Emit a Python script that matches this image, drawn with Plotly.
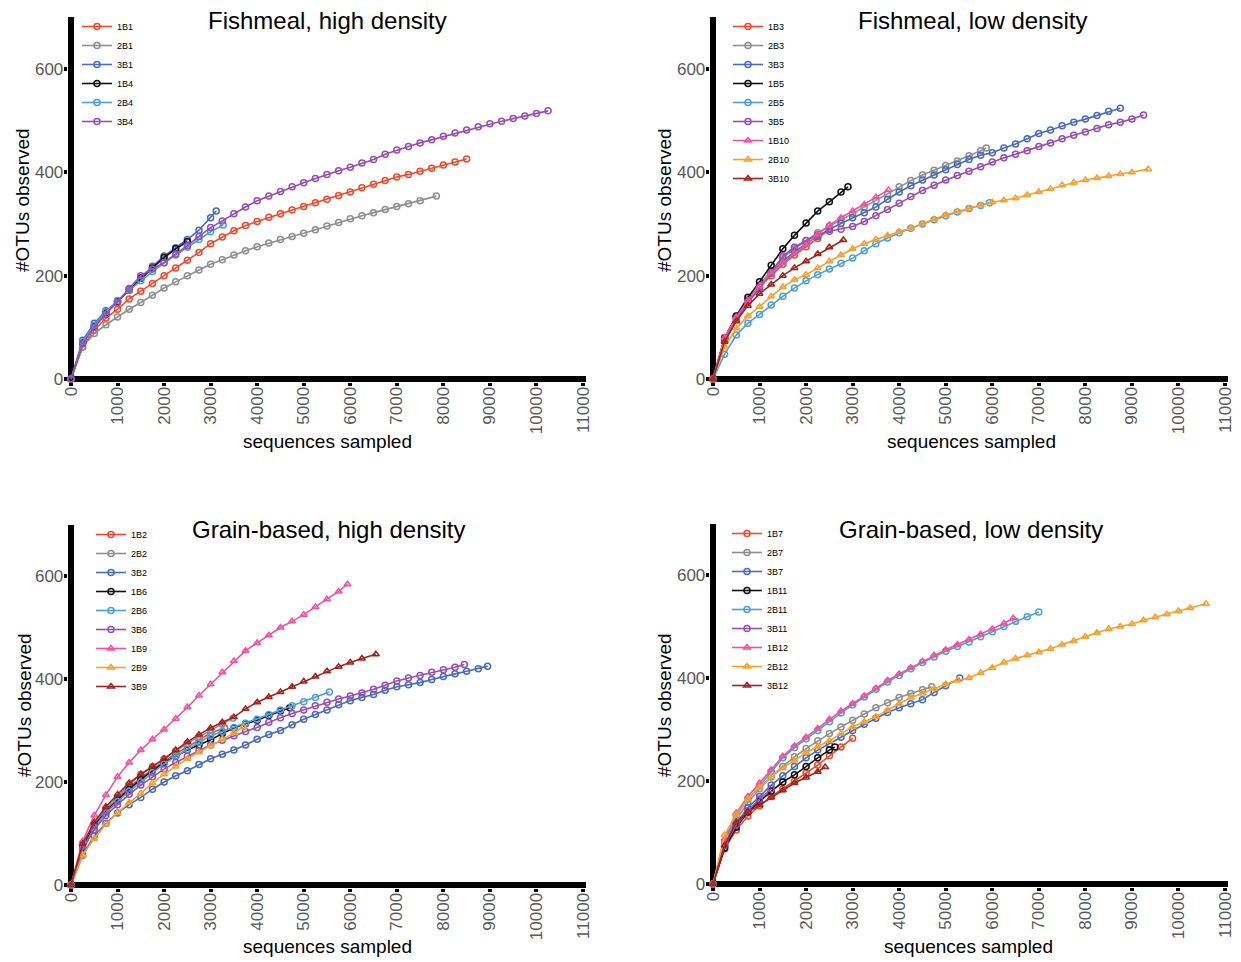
import plotly.graph_objects as go

# ---------------- data ----------------
DEPTH_STEP = 250  # rarefaction sampling step (sequences)

COLORS = ["#F2492B", "#8F8F8F", "#4A6BC0", "#111111", "#4AA0DC",
          "#9A4DB5", "#F0539E", "#F7A02C", "#A3231D"]
SYMBOLS = ["circle-open"] * 6 + ["triangle-up-open"] * 3

TITLES = ["Fishmeal, high density", "Fishmeal, low density",
          "Grain-based, high density", "Grain-based, low density"]

X_TICKS = list(range(0, 11001, 1000))
Y_TICKS = [0, 200, 400, 600]

# Panel 1 : Fishmeal, high density
P1_NAMES = ["1B1", "2B1", "3B1", "1B4", "2B4", "3B4"]
P1_END = [8500, 7850, 3120, 2500, 3270, 10250]
P1_OTUS = [
    [0, 62, 95, 118, 135, 155, 170, 185, 200, 215, 230, 245, 262, 275, 287, 297, 305, 313, 320, 327, 334, 341, 348, 355, 362, 370, 377, 384, 391, 396, 402, 408, 414, 420, 426],
    [0, 62, 88, 105, 120, 135, 148, 162, 176, 188, 200, 211, 222, 231, 240, 248, 256, 263, 270, 276, 282, 289, 296, 303, 310, 316, 322, 328, 334, 339, 345, 354],
    [0, 75, 108, 132, 150, 174, 196, 218, 238, 254, 270, 288, 312, 325],
    [0, 70, 102, 128, 150, 172, 195, 215, 235, 252, 266],
    [0, 72, 104, 130, 152, 172, 190, 208, 225, 240, 255, 270, 285, 298],
    [0, 68, 100, 125, 148, 175, 200, 213, 225, 242, 258, 276, 293, 306, 320, 333, 345, 354, 363, 372, 380, 388, 396, 403, 410, 418, 425, 435, 443, 450, 457, 463, 470, 476, 482, 488, 494, 499, 504, 509, 514, 519],
]

# Panel 2 : Fishmeal, low density
P2_NAMES = ["1B3", "2B3", "3B3", "1B5", "2B5", "3B5", "1B10", "2B10", "3B10"]
P2_END = [2500, 5870, 8750, 2900, 5940, 9250, 3770, 9350, 2800]
P2_OTUS = [
    [0, 80, 120, 152, 178, 200, 222, 240, 256, 272, 290],
    [0, 80, 122, 155, 182, 210, 235, 252, 268, 283, 296, 308, 320, 333, 345, 358, 372, 384, 395, 404, 413, 422, 432, 442, 447],
    [0, 80, 120, 152, 178, 205, 228, 246, 262, 276, 290, 301, 312, 322, 333, 348, 362, 374, 385, 395, 405, 415, 425, 433, 438, 447, 455, 465, 475, 482, 490, 497, 503, 510, 518, 524],
    [0, 78, 122, 158, 188, 220, 252, 278, 302, 325, 343, 362, 372],
    [0, 48, 85, 108, 125, 143, 160, 176, 190, 202, 213, 224, 234, 248, 262, 273, 283, 292, 300, 308, 316, 323, 330, 336, 341],
    [0, 75, 115, 148, 175, 205, 238, 255, 268, 279, 286, 290, 295, 305, 316, 328, 340, 353, 365, 375, 385, 394, 402, 411, 420, 428, 435, 442, 450, 457, 465, 472, 478, 485, 492, 497, 503, 511],
    [0, 80, 120, 152, 180, 205, 225, 243, 260, 280, 298, 312, 325, 338, 352, 366],
    [0, 62, 98, 122, 140, 160, 178, 192, 202, 215, 228, 240, 252, 262, 270, 278, 285, 292, 300, 309, 318, 324, 330, 336, 342, 346, 350, 356, 362, 368, 375, 380, 385, 389, 393, 397, 400, 406],
    [0, 72, 112, 142, 165, 183, 200, 215, 228, 242, 255, 269],
]

# Panel 3 : Grain-based, high density
P3_NAMES = ["1B2", "2B2", "3B2", "1B6", "2B6", "3B6", "1B9", "2B9", "3B9"]
P3_END = [3300, 3480, 8950, 4700, 5550, 8450, 5940, 3700, 6550]
P3_OTUS = [
    [0, 72, 115, 145, 168, 190, 208, 225, 240, 255, 268, 282, 295, 305],
    [0, 75, 118, 148, 170, 195, 215, 230, 245, 260, 275, 288, 300, 312, 324],
    [0, 58, 95, 120, 140, 156, 170, 186, 200, 212, 222, 234, 245, 254, 262, 272, 283, 292, 300, 311, 322, 331, 340, 350, 358, 364, 370, 378, 385, 389, 393, 399, 405, 410, 415, 420, 425],
    [0, 72, 115, 142, 165, 186, 205, 222, 238, 250, 262, 272, 282, 294, 305, 313, 320, 329, 338, 344],
    [0, 70, 112, 140, 162, 182, 200, 218, 235, 250, 263, 277, 290, 298, 306, 314, 322, 331, 340, 348, 356, 364, 375],
    [0, 68, 108, 135, 156, 176, 194, 210, 225, 238, 250, 261, 272, 281, 290, 298, 306, 316, 325, 333, 340, 348, 355, 361, 367, 373, 380, 388, 396, 402, 407, 413, 418, 423, 428],
    [0, 85, 135, 175, 210, 238, 262, 283, 302, 323, 345, 368, 390, 413, 435, 455, 470, 485, 500, 512, 525, 540, 555, 570, 584],
    [0, 58, 90, 118, 140, 160, 178, 198, 215, 230, 245, 258, 270, 283, 295, 307],
    [0, 80, 122, 152, 176, 198, 215, 230, 245, 262, 278, 292, 305, 316, 326, 342, 355, 365, 375, 385, 395, 405, 415, 424, 432, 440, 448],
]

# Panel 4 : Grain-based, low density
P4_NAMES = ["1B7", "2B7", "3B7", "1B11", "2B11", "3B11", "1B12", "2B12", "3B12"]
P4_END = [3000, 4700, 5300, 2620, 7000, 1250, 6450, 10590, 2410]
P4_OTUS = [
    [0, 68, 105, 132, 152, 170, 185, 200, 215, 231, 249, 266, 283],
    [0, 80, 125, 158, 185, 208, 228, 247, 263, 278, 292, 305, 318, 330, 342, 352, 362, 370, 377, 383],
    [0, 75, 118, 148, 170, 192, 210, 228, 245, 260, 272, 285, 298, 310, 322, 333, 342, 350, 358, 372, 385, 400],
    [0, 70, 110, 140, 160, 180, 198, 212, 228, 245, 260, 266],
    [0, 82, 132, 165, 190, 218, 245, 265, 282, 298, 315, 332, 348, 363, 378, 392, 405, 418, 430, 441, 452, 461, 470, 480, 490, 500, 510, 519, 528],
    [0, 75, 115, 142, 165, 185],
    [0, 88, 138, 170, 196, 222, 248, 268, 285, 302, 320, 336, 350, 365, 380, 395, 408, 420, 432, 444, 455, 465, 475, 485, 495, 506, 516],
    [0, 95, 135, 165, 188, 208, 225, 240, 255, 267, 278, 292, 305, 315, 325, 338, 350, 362, 370, 379, 388, 395, 400, 410, 420, 430, 438, 444, 450, 457, 465, 472, 480, 488, 495, 500, 505, 512, 518, 524, 530, 536, 544],
    [0, 75, 120, 140, 153, 168, 182, 196, 207, 218, 227],
]

PANELS = [
    (P1_NAMES, P1_END, P1_OTUS),
    (P2_NAMES, P2_END, P2_OTUS),
    (P3_NAMES, P3_END, P3_OTUS),
    (P4_NAMES, P4_END, P4_OTUS),
]

# ---------------- layout geometry (page pixels) ----------------
W, H = 1241, 962
OFF = 8          # page body margin
FONT = "Liberation Sans, Arial, sans-serif"
X_MIN, X_MAX = -70, 11060
Y_MIN, Y_MAX = -6, 700

# (page x of 0, page x of 11000, page y of 0, page y of 600)
ANCHORS = [(71, 583, 379, 69), (713, 1225, 379, 69),
           (71, 583, 885, 576), (713, 1225, 884, 575)]
TITLE_POS = [(328, 20), (972, 20), (329, 529), (971, 529)]
XTITLE_POS = [(328, 441), (971, 441), (328, 946), (968, 946)]
YTITLE_POS = [(22, 200), (664, 200), (24, 705), (664, 705)]
LEGEND_POS = [(77, 12), (728, 12), (91, 520), (727, 519)]


def fx(px):
    return (px - OFF) / W


def fy(py):
    return (H - (py - OFF)) / H


fig = go.Figure()

for p, (names, ends, otus) in enumerate(PANELS):
    sfx = "" if p == 0 else str(p + 1)
    for i, (nm, end, vals) in enumerate(zip(names, ends, otus)):
        depths = [k * DEPTH_STEP for k in range(len(vals) - 1)] + [end]
        fig.add_trace(go.Scatter(
            x=depths, y=vals, name=nm, mode="lines+markers",
            xaxis="x" + sfx, yaxis="y" + sfx, legend="legend" + sfx,
            line=dict(color=COLORS[i], width=1.6),
            marker=dict(symbol=SYMBOLS[i], size=6, color=COLORS[i],
                        line=dict(width=1.5, color=COLORS[i])),
            cliponaxis=False,
        ))

layout = dict(
    width=W, height=H,
    margin=dict(l=0, r=0, t=0, b=0, pad=0, autoexpand=False),
    paper_bgcolor="white", plot_bgcolor="white",
    font=dict(family=FONT, color="black"),
    showlegend=True,
)

annotations = []
for p, (x0, x1, y0, y6) in enumerate(ANCHORS):
    sfx = "" if p == 0 else str(p + 1)
    ppx = (x1 - x0) / 11000.0
    ppy = (y0 - y6) / 600.0
    left, right = x0 + X_MIN * ppx, x0 + X_MAX * ppx
    bottom, top = y0 - Y_MIN * ppy, y0 - Y_MAX * ppy
    axis_common = dict(
        showline=False, zeroline=True, zerolinewidth=6, zerolinecolor="black",
        ticks="outside", ticklen=3, tickwidth=4, tickcolor="black",
        showgrid=False, automargin=False,
        tickfont=dict(size=17, color="#595959", family=FONT),
    )
    layout["xaxis" + sfx] = dict(
        domain=[fx(left), fx(right)], anchor="y" + sfx, range=[X_MIN, X_MAX],
        tickvals=X_TICKS, ticktext=[str(v) for v in X_TICKS], tickangle=-90,
        ticklabelstandoff=-6, **axis_common)
    layout["yaxis" + sfx] = dict(
        domain=[fy(bottom), fy(top)], anchor="x" + sfx, range=[Y_MIN, Y_MAX],
        tickvals=Y_TICKS, ticktext=[str(v) for v in Y_TICKS],
        ticklabelstandoff=-3, **axis_common)
    lx, ly = LEGEND_POS[p]
    layout["legend" + sfx] = dict(
        x=fx(lx), y=fy(ly), xanchor="left", yanchor="top",
        bgcolor="rgba(0,0,0,0)", font=dict(size=9, color="black", family=FONT),
        tracegroupgap=0, itemwidth=30,
    )
    tx, ty = TITLE_POS[p]
    annotations.append(dict(
        text=TITLES[p], x=fx(tx), y=fy(ty), xref="paper", yref="paper",
        xanchor="center", yanchor="middle", showarrow=False,
        font=dict(size=24, color="black", family=FONT)))
    ax_, ay_ = XTITLE_POS[p]
    annotations.append(dict(
        text="sequences sampled", x=fx(ax_), y=fy(ay_), xref="paper", yref="paper",
        xanchor="center", yanchor="middle", showarrow=False,
        font=dict(size=19, color="black", family=FONT)))
    bx, by = YTITLE_POS[p]
    annotations.append(dict(
        text="#OTUs observed", x=fx(bx), y=fy(by), xref="paper", yref="paper",
        xanchor="center", yanchor="middle", textangle=-90, showarrow=False,
        font=dict(size=19, color="black", family=FONT)))

layout["annotations"] = annotations
fig.update_layout(**layout)

fig.write_html("out.html")
